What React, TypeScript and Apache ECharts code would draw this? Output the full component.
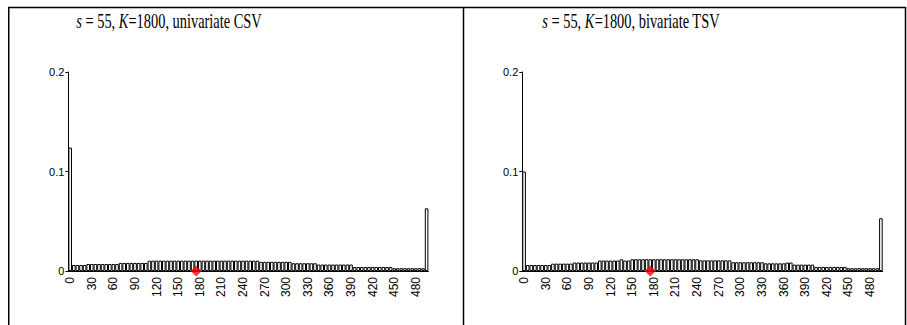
import React, { useEffect, useRef } from "react";
import * as echarts from "echarts";

const bins = [
  "0","5","10","15","20","25","30","35","40","45","50","55","60","65","70","75","80","85","90","95",
  "100","105","110","115","120","125","130","135","140","145","150","155","160","165","170","175","180","185","190","195",
  "200","205","210","215","220","225","230","235","240","245","250","255","260","265","270","275","280","285","290","295",
  "300","305","310","315","320","325","330","335","340","345","350","355","360","365","370","375","380","385","390","395",
  "400","405","410","415","420","425","430","435","440","445","450","455","460","465","470","475","480","485","490","495",
];

const tickLabels = ["0","30","60","90","120","150","180","210","240","270","300","330","360","390","420","450","480"];

const univariateCSV = [
  0.124,
  0.006, 0.006, 0.006, 0.006,
  0.007, 0.007, 0.007, 0.007, 0.007, 0.007, 0.007, 0.007, 0.007,
  0.0081, 0.0081, 0.0081, 0.0081, 0.0081, 0.0081, 0.0081, 0.0081,
  0.0104, 0.0104, 0.0104, 0.0104, 0.0104, 0.0104, 0.0104, 0.0104, 0.0104, 0.0104,
  0.0104, 0.0104, 0.0104, 0.0104, 0.0104, 0.0104, 0.0104, 0.0104, 0.0104, 0.0104,
  0.0104, 0.0104, 0.0104, 0.0104, 0.0104, 0.0104, 0.0104, 0.0104, 0.0104, 0.0104, 0.0104,
  0.0092, 0.0092, 0.0092, 0.0092, 0.0092, 0.0092, 0.0092, 0.0092, 0.0092,
  0.0078, 0.0078, 0.0078, 0.0078, 0.0078, 0.0078, 0.0078,
  0.0065, 0.0065, 0.0065, 0.0065, 0.0065, 0.0065, 0.0065, 0.0065, 0.0065, 0.0065,
  0.004, 0.004, 0.004, 0.004, 0.004, 0.004, 0.004, 0.004, 0.004, 0.004, 0.004,
  0.0028, 0.0028, 0.0028, 0.0028, 0.0028, 0.0028, 0.0028, 0.0028, 0.0028,
  0.063,
];

const bivariateTSV = [
  0.1,
  0.006, 0.006, 0.006, 0.006, 0.006, 0.006, 0.006,
  0.0074, 0.0074, 0.0074, 0.0074, 0.0074, 0.0074,
  0.0085, 0.0085, 0.0085, 0.0085, 0.0085, 0.0085, 0.0085,
  0.0105, 0.0105, 0.0105, 0.0105, 0.0105, 0.0105,
  0.0118,
  0.0105, 0.0105,
  0.0118, 0.0118, 0.0118, 0.0118, 0.0118, 0.0118, 0.0118, 0.0118, 0.0118, 0.0118,
  0.0118, 0.0118, 0.0118, 0.0118, 0.0118, 0.0118, 0.0118, 0.0118, 0.0118,
  0.0107, 0.0107, 0.0107, 0.0107, 0.0107, 0.0107, 0.0107, 0.0107, 0.0107,
  0.0088, 0.0088, 0.0088, 0.0088, 0.0088, 0.0088, 0.0088, 0.0088, 0.0088,
  0.0077, 0.0077, 0.0077, 0.0077, 0.0077, 0.0077,
  0.0085, 0.0085,
  0.0064, 0.0064, 0.0064, 0.0064, 0.0064, 0.0064,
  0.0041, 0.0041, 0.0041, 0.0041, 0.0041, 0.0041, 0.0041, 0.0041, 0.0041,
  0.0028, 0.0028, 0.0028, 0.0028, 0.0028, 0.0028, 0.0028, 0.0028, 0.0028,
  0.053,
];

const markerBin = "175";
const markerValue = 0;

const titles = [
  "{i|s} = 55, {i|K}=1800, univariate CSV",
  "{i|s} = 55, {i|K}=1800, bivariate TSV",
];

const SERIF = "'Liberation Serif', 'Times New Roman', serif";
const SANS = "'Liberation Sans', Arial, sans-serif";

export default function App() {
  const ref = useRef<HTMLDivElement>(null);
  useEffect(() => {
    if (!ref.current) return;
    const chart = echarts.init(ref.current, undefined, { renderer: "svg" });
    const grids = [
      { left: 68.4, top: 72, width: 360, height: 199 },
      { left: 522.3, top: 72, width: 360.4, height: 199 },
    ];
    const xAxes = grids.map((_, i) => ({
      type: "category",
      gridIndex: i,
      data: bins,
      boundaryGap: true,
      axisLine: { lineStyle: { color: "#000", width: 1 } },
      axisTick: { alignWithLabel: true, interval: 1, length: 4, lineStyle: { color: "#000" } },
      axisLabel: {
        interval: 5,
        rotate: 90,
        margin: 6,
        fontFamily: SANS,
        fontSize: 12,
        color: "#000",
        formatter: (v: string) => (tickLabels.includes(v) ? v : ""),
      },
      splitLine: { show: false },
    }));
    const yAxes = grids.map((_, i) => ({
      type: "value",
      gridIndex: i,
      min: 0,
      max: 0.2,
      interval: 0.1,
      axisLine: { show: true, lineStyle: { color: "#000", width: 1 } },
      axisTick: { show: true, length: 3, lineStyle: { color: "#000" } },
      axisLabel: {
        margin: 4,
        fontFamily: SANS,
        fontSize: 11,
        color: "#000",
        formatter: (v: number) => (v === 0 ? "0" : String(Math.round(v * 10) / 10)),
      },
      splitLine: { show: false },
    }));
    const datasets = [univariateCSV, bivariateTSV];
    const series: any[] = [];
    datasets.forEach((d, i) => {
      series.push({
        type: "bar",
        xAxisIndex: i,
        yAxisIndex: i,
        data: d,
        barCategoryGap: "0%",
        itemStyle: { color: "#fff", borderColor: "#000", borderWidth: 1 },
        silent: true,
      });
      series.push({
        type: "scatter",
        xAxisIndex: i,
        yAxisIndex: i,
        data: [[markerBin, markerValue]],
        symbol: "diamond",
        symbolSize: [11, 11],
        itemStyle: { color: "#ff0000" },
        clip: false,
        z: 10,
      });
    });
    const lineStyle = { stroke: "#000", lineWidth: 1.5 };
    const titleGraphics = titles.map((t, i) => ({
      type: "text",
      x: i === 0 ? 169 : 631,
      y: 11,
      scaleX: 0.72,
      silent: true,
      style: {
        text: t,
        x: 0,
        y: 0,
        align: "center",
        verticalAlign: "top",
        fontFamily: SERIF,
        fontSize: 20,
        fill: "#000",
        rich: {
          i: { fontFamily: SERIF, fontSize: 20, fontStyle: "italic", fill: "#000" },
        },
      },
    }));
    chart.setOption({
      animation: false,
      backgroundColor: "#fff",
      grid: grids,
      xAxis: xAxes,
      yAxis: yAxes,
      series,
      graphic: [
        ...titleGraphics,
        { type: "line", shape: { x1: 8, y1: 7.5, x2: 906, y2: 7.5 }, style: lineStyle, silent: true },
        { type: "line", shape: { x1: 8.75, y1: 7, x2: 8.75, y2: 325 }, style: lineStyle, silent: true },
        { type: "line", shape: { x1: 463.5, y1: 7, x2: 463.5, y2: 325 }, style: lineStyle, silent: true },
        { type: "line", shape: { x1: 905.5, y1: 7, x2: 905.5, y2: 325 }, style: lineStyle, silent: true },
      ],
    });
    return () => chart.dispose();
  }, []);
  return (
    <div
      ref={ref}
      style={{ position: "absolute", left: 0, top: 0, width: 907, height: 325 }}
    />
  );
}
